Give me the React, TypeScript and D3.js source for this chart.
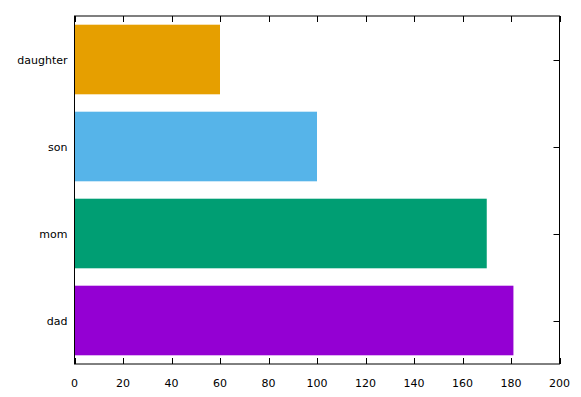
import React, { useEffect, useRef } from 'react';
import * as d3 from 'd3';

const categories = ['dad', 'mom', 'son', 'daughter'];
const values = [181, 170, 100, 60];
const colors = ['#9400d3', '#009e73', '#56b4e9', '#e69f00'];
const xTicks = [0, 20, 40, 60, 80, 100, 120, 140, 160, 180, 200];

const App = () => {
  const svgRef = useRef<SVGSVGElement>(null);

  useEffect(() => {
    const width = 581;
    const height = 397;
    const margin = { top: 16, right: 21.5, bottom: 33, left: 74.5 };
    const svg = d3.select(svgRef.current);
    svg.selectAll('*').remove();

    const x = d3.scaleLinear()
      .domain([0, 200])
      .range([margin.left, width - margin.right]);

    // dad at bottom, daughter at top
    const y = d3.scaleBand()
      .domain(categories.slice().reverse())
      .range([margin.top, height - margin.bottom])
      .paddingInner(0.2)
      .paddingOuter(0.1);

    const font = 'DejaVu Sans, Verdana, sans-serif';
    const bottom = height - margin.bottom;
    const right = width - margin.right;

    // bars
    svg.append('g')
      .selectAll('rect')
      .data(categories)
      .join('rect')
      .attr('x', x(0))
      .attr('y', d => y(d))
      .attr('width', (d, i) => x(values[i]) - x(0))
      .attr('height', y.bandwidth())
      .attr('fill', (d, i) => colors[i]);

    // frame
    svg.append('rect')
      .attr('x', margin.left)
      .attr('y', margin.top)
      .attr('width', right - margin.left)
      .attr('height', bottom - margin.top)
      .attr('fill', 'none')
      .attr('stroke', 'black')
      .attr('stroke-width', 1);

    // x ticks (bottom and mirrored top)
    const tickG = svg.append('g').attr('stroke', 'black').attr('stroke-width', 1);
    xTicks.forEach(t => {
      const px = Math.round(x(t)) + 0.5;
      tickG.append('line').attr('x1', px).attr('x2', px).attr('y1', bottom).attr('y2', bottom - 6);
      tickG.append('line').attr('x1', px).attr('x2', px).attr('y1', margin.top).attr('y2', margin.top + 6);
    });

    // y ticks on right (mirrored), left ones hidden behind bars
    categories.forEach(c => {
      const py = Math.round(y(c)! + y.bandwidth() / 2) + 0.5;
      tickG.append('line').attr('x1', right).attr('x2', right - 6).attr('y1', py).attr('y2', py);
    });

    svg.append('g')
      .selectAll('text')
      .data(xTicks)
      .join('text')
      .attr('x', d => x(d))
      .attr('y', bottom + 23)
      .attr('text-anchor', 'middle')
      .style('font-family', font)
      .style('font-size', '11px')
      .attr('fill', 'black')
      .text(d => d);

    svg.append('g')
      .selectAll('text')
      .data(categories)
      .join('text')
      .attr('x', margin.left - 7)
      .attr('y', d => y(d)! + y.bandwidth() / 2 + 1)
      .attr('dy', '0.35em')
      .attr('text-anchor', 'end')
      .style('font-family', font)
      .style('font-size', '11px')
      .attr('fill', 'black')
      .text(d => d);
  }, []);

  return (
    <svg
      ref={svgRef}
      width={581}
      height={397}
      style={{ position: 'absolute', left: 0, top: 0, background: 'white' }}
    ></svg>
  );
};

export default App;
